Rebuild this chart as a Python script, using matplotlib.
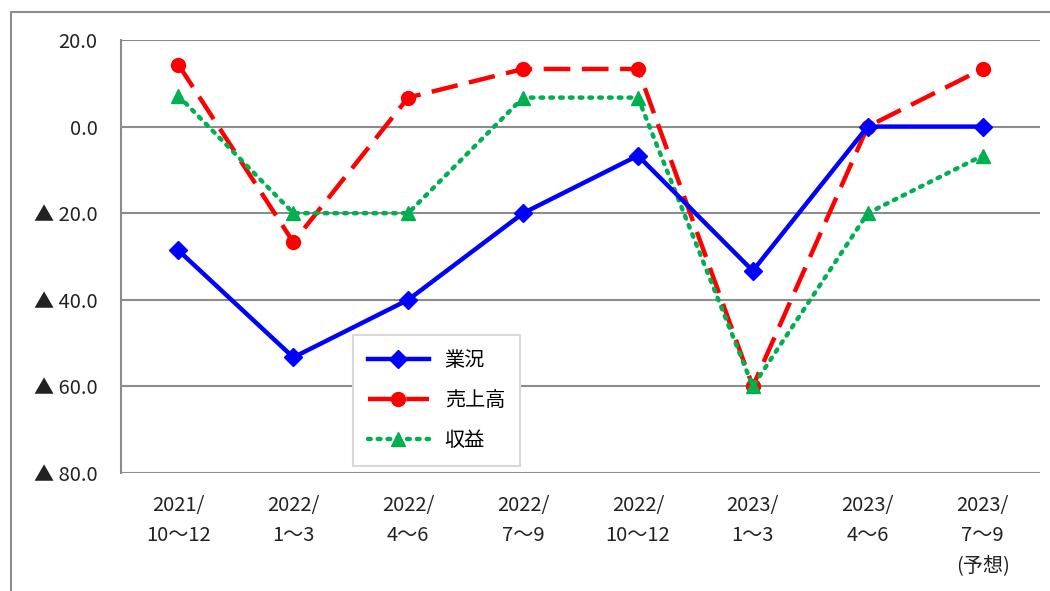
import matplotlib.pyplot as plt
from matplotlib.patches import Rectangle
import numpy as np

plt.rcParams['font.family'] = ['Noto Sans CJK JP', 'DejaVu Sans']

periods = ['2021/\n10～12', '2022/\n1～3', '2022/\n4～6', '2022/\n7～9',
           '2022/\n10～12', '2023/\n1～3', '2023/\n4～6', '2023/\n7～9\n(予想)']
gyokyo = [-28.6, -53.3, -40.0, -20.0, -6.7, -33.3, 0.0, 0.0]
uriage = [14.3, -26.7, 6.7, 13.3, 13.3, -60.0, 0.0, 13.3]
shueki = [7.1, -20.0, -20.0, 6.7, 6.7, -60.0, -20.0, -6.7]
yticks = [20, 0, -20, -40, -60, -80]

fig = plt.figure(figsize=(10.5, 5.91), dpi=100)
ax = fig.add_axes([121/1050, 1-473/591, 919/1050, 433/591])

# outer frame
fig.patches.append(Rectangle((11/1050, -0.05), 1.1, 1-12/591+0.05,
                             transform=fig.transFigure, fill=False,
                             edgecolor='#8c8c8c', linewidth=1.5))

x = np.arange(len(periods))
ax.plot(x, gyokyo, color='#0000ff', lw=3.2, marker='D', ms=9, label='業況', zorder=4)
ax.plot(x, uriage, color='#ff0000', lw=3.2, ls=(0, (6, 2.6)), marker='o', ms=10,
        label='売上高', zorder=3)
ax.plot(x, shueki, color='#00b050', lw=3.2, ls=(0, (0.6, 1.6)), dash_capstyle='round',
        marker='^', ms=10, label='収益', zorder=3)

ax.set_xlim(-0.5, 7.5)
ax.set_ylim(-80, 20)
ax.set_yticks(yticks)
ax.set_yticklabels([f'{v:.1f}' if v >= 0 else f'▲ {-v:.1f}' for v in yticks])
ax.set_xticks(x)
ax.set_xticklabels(periods, linespacing=1.55, va='top')
ax.tick_params(length=0, labelsize=14.5, colors='#222222', pad=16)
ax.tick_params(axis='y', pad=17)
ax.grid(axis='y', color='#8c8c8c', lw=1.5)
ax.set_axisbelow(True)
for s in ['top', 'right', 'bottom']:
    ax.spines[s].set_visible(False)
ax.spines['left'].set_color('#8c8c8c')
ax.spines['left'].set_linewidth(1.5)

leg = ax.legend(loc='lower left', bbox_to_anchor=(0.2525, 0.016), borderaxespad=0,
                fontsize=14.5, handlelength=3.0, labelspacing=0.95, borderpad=0.75,
                fancybox=False, framealpha=1, edgecolor='#d9d9d9')
leg.get_frame().set_linewidth(1.5)

fig.savefig('out.png', dpi=100)
